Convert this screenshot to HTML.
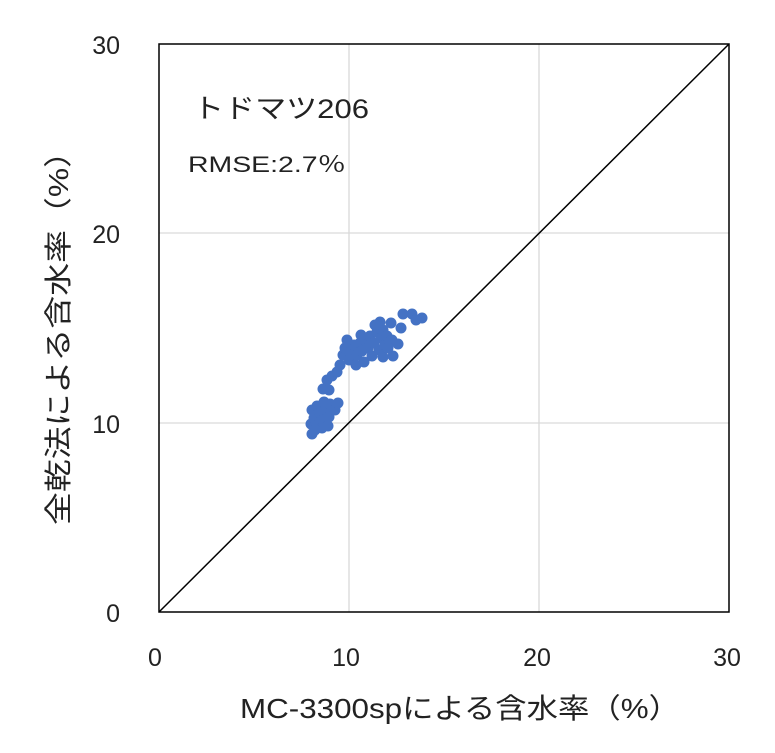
<!DOCTYPE html>
<html><head><meta charset="utf-8"><style>
body{margin:0;background:#fff}
text{font-family:"Liberation Sans","Noto Sans CJK JP",sans-serif;fill:#222}
</style></head><body>
<svg width="775" height="748" xmlns="http://www.w3.org/2000/svg">
<g stroke="#d9d9d9" stroke-width="1.3">
<line x1="349" y1="44" x2="349" y2="612"/><line x1="539" y1="44" x2="539" y2="612"/>
<line x1="159" y1="233" x2="729" y2="233"/><line x1="159" y1="423" x2="729" y2="423"/>
</g>
<rect x="159" y="44" width="570" height="568" fill="none" stroke="#000" stroke-width="1.5"/>
<g fill="#4472c4">
<circle cx="312" cy="434" r="5.5"/><circle cx="311" cy="424" r="5.5"/><circle cx="314" cy="418" r="5.5"/><circle cx="312" cy="410" r="5.5"/><circle cx="317" cy="406" r="5.5"/><circle cx="320" cy="413" r="5.5"/><circle cx="318" cy="425" r="5.5"/><circle cx="323" cy="420" r="5.5"/><circle cx="326" cy="410" r="5.5"/><circle cx="329" cy="417" r="5.5"/><circle cx="324" cy="402" r="5.5"/><circle cx="330" cy="404" r="5.5"/><circle cx="335" cy="410" r="5.5"/><circle cx="338" cy="403" r="5.5"/><circle cx="322" cy="428" r="5.5"/><circle cx="315" cy="430" r="5.5"/><circle cx="328" cy="426" r="5.5"/><circle cx="323" cy="389" r="5.5"/><circle cx="327" cy="380" r="5.5"/><circle cx="329" cy="390" r="5.5"/><circle cx="332" cy="376" r="5.5"/><circle cx="337" cy="372" r="5.5"/><circle cx="340" cy="365" r="5.5"/><circle cx="343" cy="355" r="5.5"/><circle cx="345" cy="348" r="5.5"/><circle cx="350" cy="352" r="5.5"/><circle cx="349" cy="360" r="5.5"/><circle cx="354" cy="345" r="5.5"/><circle cx="357" cy="355" r="5.5"/><circle cx="360" cy="343" r="5.5"/><circle cx="362" cy="351" r="5.5"/><circle cx="365" cy="340" r="5.5"/><circle cx="368" cy="348" r="5.5"/><circle cx="370" cy="336" r="5.5"/><circle cx="372" cy="356" r="5.5"/><circle cx="374" cy="343" r="5.5"/><circle cx="377" cy="332" r="5.5"/><circle cx="379" cy="350" r="5.5"/><circle cx="381" cy="338" r="5.5"/><circle cx="383" cy="330" r="5.5"/><circle cx="385" cy="345" r="5.5"/><circle cx="387" cy="336" r="5.5"/><circle cx="380" cy="322" r="5.5"/><circle cx="390" cy="342" r="5.5"/><circle cx="393" cy="356" r="5.5"/><circle cx="392" cy="340" r="5.5"/><circle cx="398" cy="344" r="5.5"/><circle cx="383" cy="357" r="5.5"/><circle cx="364" cy="362" r="5.5"/><circle cx="356" cy="365" r="5.5"/><circle cx="347" cy="340" r="5.5"/><circle cx="375" cy="325" r="5.5"/><circle cx="391" cy="323" r="5.5"/><circle cx="401" cy="328" r="5.5"/><circle cx="403" cy="314" r="5.5"/><circle cx="412" cy="314" r="5.5"/><circle cx="416" cy="320" r="5.5"/><circle cx="422" cy="318" r="5.5"/><circle cx="388" cy="348" r="5.5"/><circle cx="361" cy="335" r="5.5"/>
</g>
<line x1="159" y1="612" x2="729" y2="44" stroke="#000" stroke-width="1.5"/>
<text x="193" y="118" font-size="27" textLength="176" lengthAdjust="spacingAndGlyphs">トドマツ206</text>
<text x="188" y="172" font-size="22" textLength="158" lengthAdjust="spacingAndGlyphs">RMSE:2.7％</text>
<g font-size="25" text-anchor="end">
<text x="120" y="54">30</text><text x="120" y="243">20</text><text x="120" y="433">10</text><text x="120" y="622">0</text>
</g>
<g font-size="25" text-anchor="middle">
<text x="155" y="666">0</text><text x="346" y="666">10</text><text x="537" y="666">20</text><text x="727" y="666">30</text>
</g>
<text x="240" y="718" font-size="28" textLength="440" lengthAdjust="spacingAndGlyphs">MC-3300spによる含水率（%）</text>
<text transform="translate(68,525) rotate(-90)" font-size="28" textLength="390" lengthAdjust="spacingAndGlyphs">全乾法による含水率（%）</text>
</svg>
</body></html>
